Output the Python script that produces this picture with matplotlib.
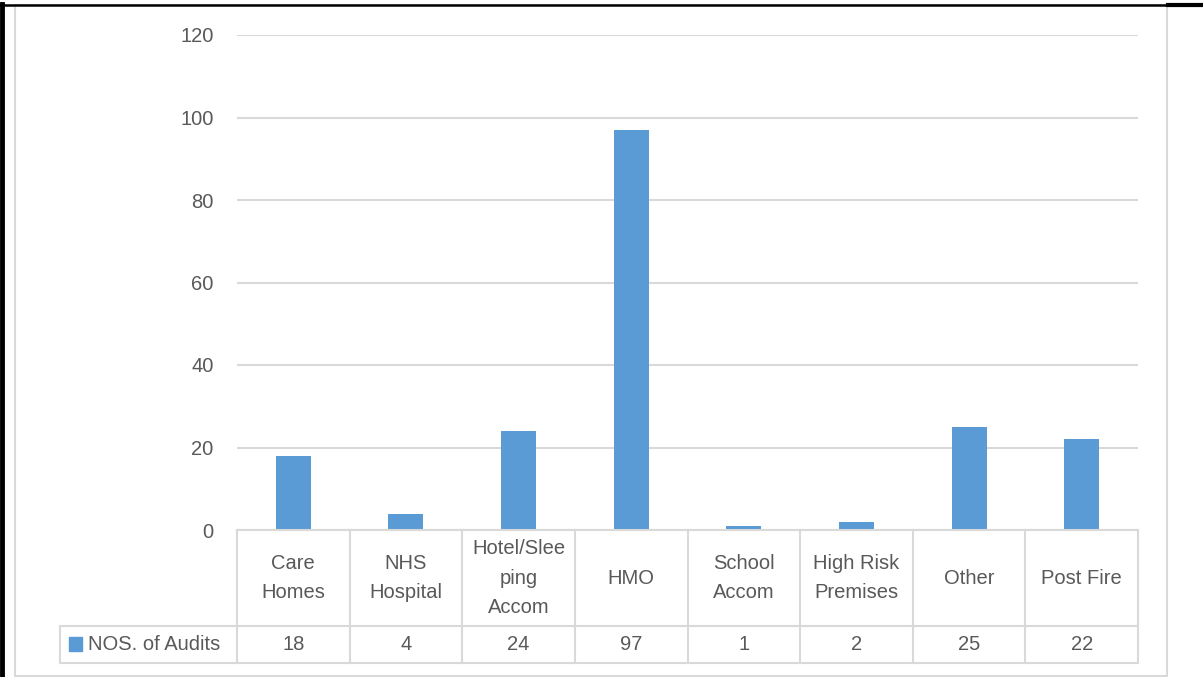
import matplotlib.pyplot as plt
from matplotlib.patches import Rectangle
from matplotlib.lines import Line2D
from matplotlib.transforms import blended_transform_factory

categories = ["Care\nHomes", "NHS\nHospital", "Hotel/Slee\nping\nAccom", "HMO",
              "School\nAccom", "High Risk\nPremises", "Other", "Post Fire"]
audits = [18, 4, 24, 97, 1, 2, 25, 22]
series_name = "NOS. of Audits"
y_ticks = [0, 20, 40, 60, 80, 100, 120]

W, H = 1203, 677
BAR = "#5b9bd5"
GRID = "#d9d9d9"
TXT = "#595959"
FS = 14.5

plt.rcParams['font.family'] = ['Liberation Sans', 'DejaVu Sans']

fig = plt.figure(figsize=(W / 100, H / 100), dpi=100)


def fy(py):
    # pixel row (from top) -> figure fraction
    return 1 - py / H


def fx(px):
    return px / W


# plot area in pixels
left, right, top, bottom = 237, 1138, 35, 530
ax = fig.add_axes([fx(left), fy(bottom), fx(right - left), (bottom - top) / H])
x = list(range(len(audits)))
ax.bar(x, audits, width=0.31, color=BAR, zorder=3)
ax.set_xlim(-0.5, len(audits) - 0.5)
ax.set_ylim(0, 120)
ax.set_yticks(y_ticks)
ax.set_xticks([])
ax.tick_params(axis='y', length=0, pad=17, labelsize=FS, labelcolor=TXT)
ax.grid(axis='y', color=GRID, linewidth=1.5, zorder=0)
for s in ax.spines.values():
    s.set_visible(False)

# data table below the plot
tr = blended_transform_factory(ax.transData, fig.transFigure)
row1, row2 = 626, 663
for i in range(len(audits) + 1):
    fig.add_artist(Line2D([i - 0.5, i - 0.5], [fy(bottom), fy(row2)], transform=tr,
                          color=GRID, lw=1.5))
fig.add_artist(Line2D([fx(left), fx(right)], [fy(bottom), fy(bottom)],
                      transform=fig.transFigure, color=GRID, lw=1.5))
for py in (row1, row2):
    fig.add_artist(Line2D([fx(60), fx(right)], [fy(py), fy(py)],
                          transform=fig.transFigure, color=GRID, lw=1.5))
fig.add_artist(Line2D([fx(60), fx(60)], [fy(row1), fy(row2)],
                      transform=fig.transFigure, color=GRID, lw=1.5))

for i, (cat, v) in enumerate(zip(categories, audits)):
    fig.text(i, fy((bottom + row1) / 2), cat, transform=tr, ha='center', va='center',
             fontsize=FS, color=TXT, linespacing=1.7)
    fig.text(i, fy((row1 + row2) / 2), str(v), transform=tr, ha='center',
             va='center', fontsize=FS, color=TXT)

# legend key in the table
fig.add_artist(Rectangle((fx(69), fy(651)), fx(13), 14 / H, transform=fig.transFigure,
                         color=BAR))
fig.text(fx(88), fy((row1 + row2) / 2), series_name, ha='left', va='center',
         fontsize=FS, color=TXT)

# chart border and page frame
fig.add_artist(Rectangle((fx(15), fy(676)), fx(1167 - 15), (676 - 5) / H,
                         transform=fig.transFigure, fill=False, edgecolor=GRID, lw=1.5))
fig.add_artist(Line2D([fx(2), fx(2)], [0, fy(4)], transform=fig.transFigure,
                      color='black', lw=3.5))
fig.add_artist(Line2D([0, 1], [fy(4.5), fy(4.5)], transform=fig.transFigure,
                      color='black', lw=1.8))
fig.add_artist(Line2D([fx(1168), 1], [fy(5), fy(5)], transform=fig.transFigure,
                      color='black', lw=3))

fig.savefig("out.png", dpi=100)
